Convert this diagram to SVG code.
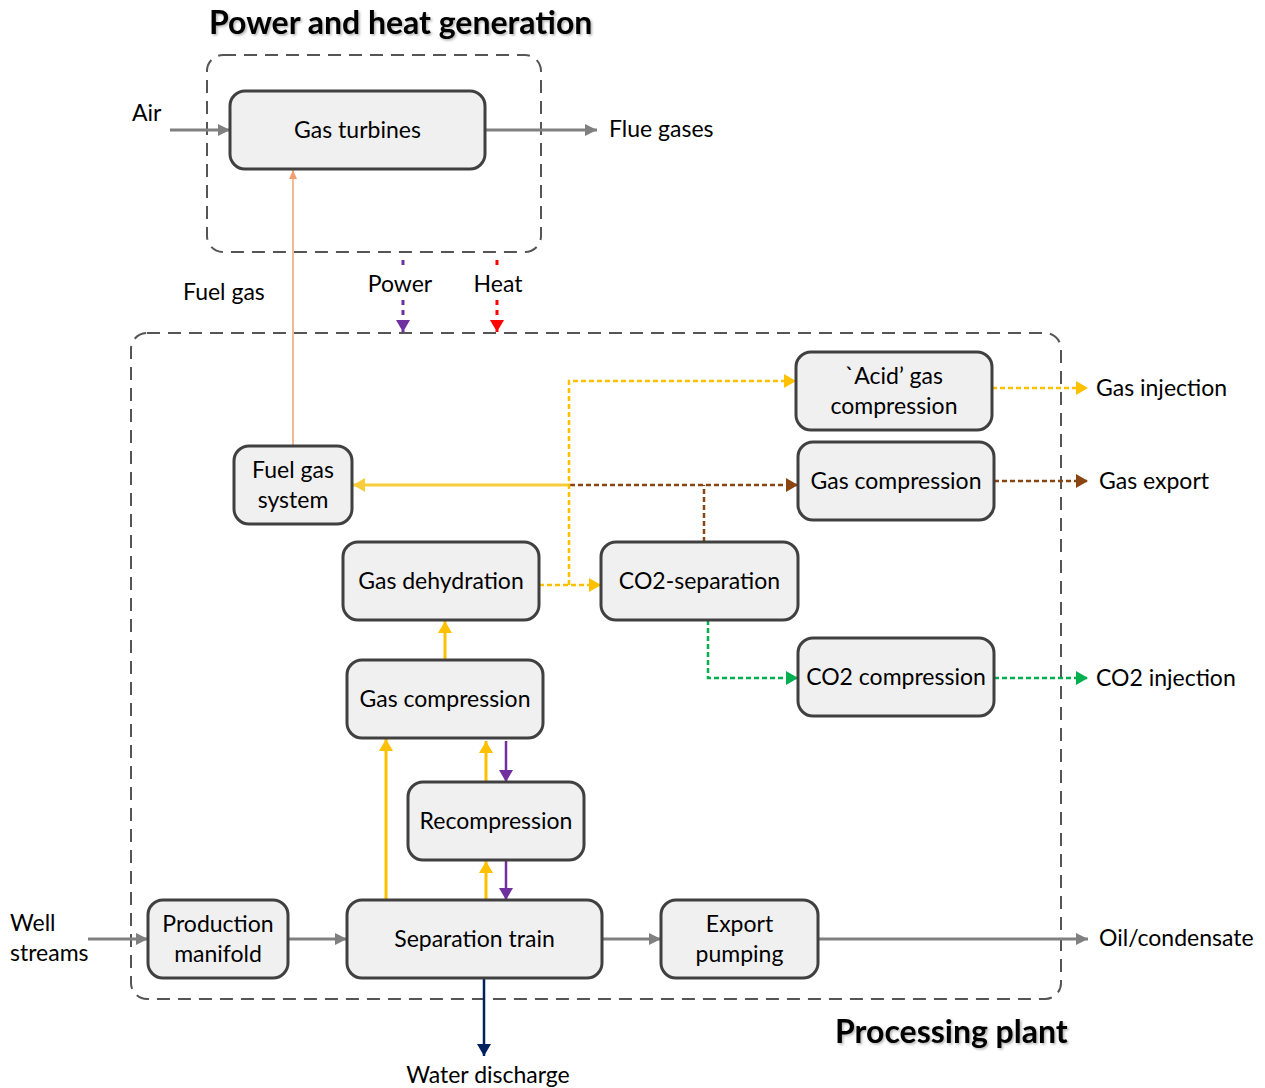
<svg xmlns="http://www.w3.org/2000/svg" width="1265" height="1088" viewBox="0 0 1265 1088">
<style>
.node rect{fill:#f0f0f0;stroke:#404040;stroke-width:3}
text{font-family:Lato,"Open Sans",sans-serif;font-size:23px;fill:#000}
.c{text-anchor:middle}
.title{font-weight:bold;font-size:32px}
.frame{fill:none;stroke:#555;stroke-width:2;stroke-dasharray:13 8}
.ln{fill:none}
.gray{stroke:#808080;stroke-width:3}
.yel{stroke:#ffc000;stroke-width:3}
.yel2{stroke:#f7cd3b;stroke-width:3}
.yd{stroke:#ffc000;stroke-width:2.5;stroke-dasharray:5 3}
.bd{stroke:#8b4513;stroke-width:2.5;stroke-dasharray:5 3}
.gd{stroke:#00b050;stroke-width:2.5;stroke-dasharray:5 3}
.pur{stroke:#7030a0;stroke-width:2.5}
.pd{stroke:#7030a0;stroke-width:3;stroke-dasharray:5 5}
.rd{stroke:#ff0000;stroke-width:3;stroke-dasharray:5 5}
.navy{stroke:#002060;stroke-width:2.5}
.org{stroke:#f0a070;stroke-width:1.5}
</style>
<defs>
<filter id="sh" x="-5%" y="-20%" width="110%" height="140%">
<feDropShadow dx="1.5" dy="1.5" stdDeviation="1" flood-color="#000" flood-opacity="0.3"/>
</filter>
<marker id="aGray" markerUnits="userSpaceOnUse" markerWidth="14" markerHeight="12" refX="12" refY="6" orient="auto"><path d="M0,0 L12,6 L0,12 Z" fill="#808080"/></marker>
<marker id="aYel" markerUnits="userSpaceOnUse" markerWidth="14" markerHeight="14" refX="12" refY="7" orient="auto"><path d="M0,0 L12,7 L0,14 Z" fill="#ffc000"/></marker>
<marker id="aYel2" markerUnits="userSpaceOnUse" markerWidth="14" markerHeight="14" refX="12" refY="7" orient="auto"><path d="M0,0 L12,7 L0,14 Z" fill="#f7cd3b"/></marker>
<marker id="aBrn" markerUnits="userSpaceOnUse" markerWidth="14" markerHeight="14" refX="12" refY="7" orient="auto"><path d="M0,0 L12,7 L0,14 Z" fill="#8b4513"/></marker>
<marker id="aGrn" markerUnits="userSpaceOnUse" markerWidth="14" markerHeight="14" refX="12" refY="7" orient="auto"><path d="M0,0 L12,7 L0,14 Z" fill="#00b050"/></marker>
<marker id="aPur" markerUnits="userSpaceOnUse" markerWidth="14" markerHeight="14" refX="12" refY="7" orient="auto"><path d="M0,0 L12,7 L0,14 Z" fill="#7030a0"/></marker>
<marker id="aRed" markerUnits="userSpaceOnUse" markerWidth="14" markerHeight="14" refX="12" refY="7" orient="auto"><path d="M0,0 L12,7 L0,14 Z" fill="#ff0000"/></marker>
<marker id="aNavy" markerUnits="userSpaceOnUse" markerWidth="14" markerHeight="14" refX="12" refY="7" orient="auto"><path d="M0,0 L12,7 L0,14 Z" fill="#002060"/></marker>
<marker id="aOrg" markerUnits="userSpaceOnUse" markerWidth="10" markerHeight="10" refX="9" refY="4" orient="auto"><path d="M0,0 L9,4 L0,8 Z" fill="#f0a070"/></marker>
</defs>
<rect width="1265" height="1088" fill="#fff"/>

<g id="frames">
<rect class="frame" x="207" y="55" width="334" height="197" rx="16"/>
<rect class="frame" x="131" y="333" width="930" height="666" rx="16"/>
<text class="title" x="209" y="34" filter="url(#sh)">Power and heat generation</text>
<text class="title" x="835" y="1043" filter="url(#sh)">Processing plant</text>
</g>

<g id="connectors">
<line class="ln gray" x1="170" y1="130" x2="230" y2="130" marker-end="url(#aGray)"/>
<line class="ln gray" x1="485" y1="130" x2="597" y2="130" marker-end="url(#aGray)"/>
<line class="ln org" x1="293" y1="446" x2="293" y2="170" marker-end="url(#aOrg)"/>
<line class="ln pd" x1="403" y1="260" x2="403" y2="268"/>
<line class="ln pd" x1="403" y1="300" x2="403" y2="332" marker-end="url(#aPur)"/>
<line class="ln rd" x1="497" y1="260" x2="497" y2="268"/>
<line class="ln rd" x1="497" y1="300" x2="497" y2="332" marker-end="url(#aRed)"/>
<line class="ln yel2" x1="570" y1="485" x2="353" y2="485" marker-end="url(#aYel2)"/>
<line class="ln bd" x1="570" y1="485" x2="798" y2="485" marker-end="url(#aBrn)"/>
<line class="ln bd" x1="704" y1="542" x2="704" y2="485"/>
<line class="ln yd" x1="539" y1="585" x2="601" y2="585" marker-end="url(#aYel)"/>
<polyline class="ln yd" points="569,585 569,381 796,381" marker-end="url(#aYel)"/>
<line class="ln yd" x1="992" y1="388" x2="1088" y2="388" marker-end="url(#aYel)"/>
<line class="ln bd" x1="994" y1="481" x2="1088" y2="481" marker-end="url(#aBrn)"/>
<polyline class="ln gd" points="708,620 708,678 798,678" marker-end="url(#aGrn)"/>
<line class="ln gd" x1="994" y1="678" x2="1088" y2="678" marker-end="url(#aGrn)"/>
<line class="ln yel" x1="445" y1="660" x2="445" y2="621" marker-end="url(#aYel)"/>
<line class="ln yel" x1="386" y1="900" x2="386" y2="739" marker-end="url(#aYel)"/>
<line class="ln yel" x1="486" y1="782" x2="486" y2="741" marker-end="url(#aYel)"/>
<line class="ln pur" x1="506" y1="741" x2="506" y2="782" marker-end="url(#aPur)"/>
<line class="ln yel" x1="486" y1="900" x2="486" y2="861" marker-end="url(#aYel)"/>
<line class="ln pur" x1="506" y1="861" x2="506" y2="900" marker-end="url(#aPur)"/>
<line class="ln gray" x1="88" y1="939" x2="148" y2="939" marker-end="url(#aGray)"/>
<line class="ln gray" x1="288" y1="939" x2="347" y2="939" marker-end="url(#aGray)"/>
<line class="ln gray" x1="602" y1="939" x2="661" y2="939" marker-end="url(#aGray)"/>
<line class="ln gray" x1="818" y1="939" x2="1088" y2="939" marker-end="url(#aGray)"/>
<line class="ln navy" x1="484" y1="978" x2="484" y2="1056" marker-end="url(#aNavy)"/>
</g>

<g id="labels">
<text x="132" y="121">Air</text>
<text x="609" y="137">Flue gases</text>
<text x="183" y="300">Fuel gas</text>
<text class="c" x="400" y="292">Power</text>
<text class="c" x="498" y="292">Heat</text>
<text x="10" y="931">Well</text>
<text x="10" y="961">streams</text>
<text x="1096" y="396">Gas injection</text>
<text x="1099" y="489">Gas export</text>
<text x="1096" y="686">CO2 injection</text>
<text x="1099" y="946">Oil/condensate</text>
<text class="c" x="488" y="1083">Water discharge</text>
</g>

<g id="gas-turbines" class="node"><rect x="230" y="91" width="255" height="78" rx="15"/><text class="c" x="357.5" y="138">Gas turbines</text></g>
<g id="fuel-gas-system" class="node"><rect x="234" y="446" width="118" height="78" rx="15"/><text class="c" x="293" y="478">Fuel gas</text><text class="c" x="293" y="508">system</text></g>
<g id="acid-gas-compression" class="node"><rect x="796" y="352" width="196" height="78" rx="15"/><text class="c" x="894" y="384">`Acid’ gas</text><text class="c" x="894" y="414">compression</text></g>
<g id="gas-compression-export" class="node"><rect x="798" y="442" width="196" height="78" rx="15"/><text class="c" x="896" y="489">Gas compression</text></g>
<g id="gas-dehydration" class="node"><rect x="343" y="542" width="196" height="78" rx="15"/><text class="c" x="441" y="589">Gas dehydration</text></g>
<g id="co2-separation" class="node"><rect x="601" y="542" width="197" height="78" rx="15"/><text class="c" x="699.5" y="589">CO2-separation</text></g>
<g id="gas-compression" class="node"><rect x="347" y="660" width="196" height="78" rx="15"/><text class="c" x="445" y="707">Gas compression</text></g>
<g id="co2-compression" class="node"><rect x="798" y="638" width="196" height="78" rx="15"/><text class="c" x="896" y="685">CO2 compression</text></g>
<g id="recompression" class="node"><rect x="408" y="782" width="176" height="78" rx="15"/><text class="c" x="496" y="829">Recompression</text></g>
<g id="production-manifold" class="node"><rect x="148" y="900" width="140" height="78" rx="15"/><text class="c" x="218" y="932">Production</text><text class="c" x="218" y="962">manifold</text></g>
<g id="separation-train" class="node"><rect x="347" y="900" width="255" height="78" rx="15"/><text class="c" x="474.5" y="947">Separation train</text></g>
<g id="export-pumping" class="node"><rect x="661" y="900" width="157" height="78" rx="15"/><text class="c" x="739.5" y="932">Export</text><text class="c" x="739.5" y="962">pumping</text></g>
</svg>
